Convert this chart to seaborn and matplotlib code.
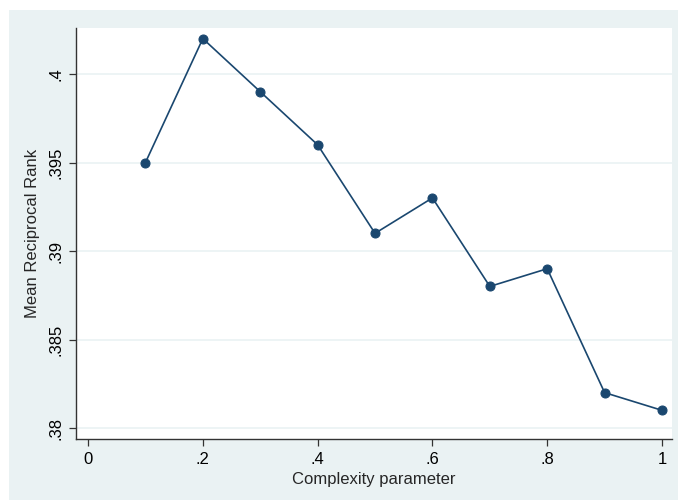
import matplotlib
matplotlib.use("Agg")
import matplotlib.pyplot as plt
import seaborn as sns
import pandas as pd
from matplotlib.patches import Rectangle

complexity = [0.1, 0.2, 0.3, 0.4, 0.5, 0.6, 0.7, 0.8, 0.9, 1.0]
mrr = [0.395, 0.402, 0.399, 0.396, 0.391, 0.393, 0.388, 0.389, 0.382, 0.381]
x_ticks = [0, 0.2, 0.4, 0.6, 0.8, 1.0]
x_tick_labels = ["0", ".2", ".4", ".6", ".8", "1"]
y_ticks = [0.38, 0.385, 0.39, 0.395, 0.4]
y_tick_labels = [".38", ".385", ".39", ".395", ".4"]

df = pd.DataFrame({"complexity": complexity, "mrr": mrr})

sns.set_style("white")
plt.rcParams["font.family"] = ["Liberation Sans", "DejaVu Sans"]

navy = "#1a476f"
bg = "#eaf2f3"

fig = plt.figure(figsize=(6.78, 5.0), dpi=100)
fig.patch.set_facecolor("white")
fig.patches.append(Rectangle((9 / 678, 0), 669 / 678, 490 / 500,
                             transform=fig.transFigure, facecolor=bg,
                             edgecolor="none", zorder=-10))

ax = fig.add_axes([76 / 678, 61 / 500, 596 / 678, 411 / 500])
ax.set_facecolor("white")

sns.lineplot(data=df, x="complexity", y="mrr", ax=ax, color=navy,
             linewidth=1.2, marker="o", markersize=6.5,
             markeredgecolor=navy, markerfacecolor=navy, zorder=3)

ax.set_xlim(-0.021, 1.0174)
ax.set_ylim(0.37938, 0.4026)
ax.set_xticks(x_ticks)
ax.set_xticklabels(x_tick_labels)
ax.set_yticks(y_ticks)
ax.set_yticklabels(y_tick_labels, rotation=90, va="center")

ax.grid(axis="y", color=bg, linewidth=1.2)
ax.grid(axis="x", visible=False)
ax.set_axisbelow(True)

for side in ["top", "right"]:
    ax.spines[side].set_visible(False)
for side in ["left", "bottom"]:
    ax.spines[side].set_color("#333333")
    ax.spines[side].set_linewidth(1.0)

ax.tick_params(axis="both", which="major", direction="out", length=5,
               width=0.9, color="#333333", labelsize=12, labelcolor="black",
               bottom=True, left=True)
ax.tick_params(axis="x", pad=4)
ax.tick_params(axis="y", pad=4)

ax.set_xlabel("Complexity parameter", fontsize=12, labelpad=4)
ax.set_ylabel("Mean Reciprocal Rank", fontsize=12, labelpad=6)

fig.savefig("out.png", dpi=100)
